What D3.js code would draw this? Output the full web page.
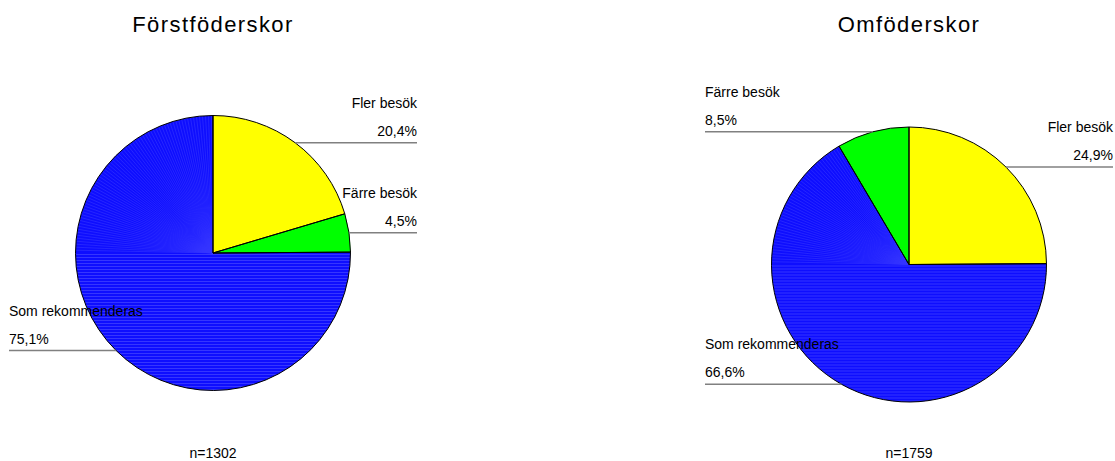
<!DOCTYPE html>
<html lang="sv">
<meta charset="utf-8">
<title>Besök – Förstföderskor / Omföderskor</title>
<head>
<style>
  body { margin: 0; background: #fff; }
  text { font-family: "Liberation Sans", Arial, sans-serif; fill: #000; }
</style>
</head>
<body>
  <script src="https://d3js.org/d3.v7.min.js"></script>
  <div id="chart"></div>
  <script>

    // data
    var titles = ["Förstföderskor", "Omföderskor"];
    var nLabels = ["n=1302", "n=1759"];

    var firstCats = ["Fler besök", "Färre besök", "Som rekommenderas"];
    var firstValues = [20.4, 4.5, 75.1];

    var otherCats = ["Fler besök", "Som rekommenderas", "Färre besök"];
    var otherValues = [24.9, 66.6, 8.5];

    var colors = {
      "Fler besök": "#ffff00",
      "Färre besök": "#00ff00",
      "Som rekommenderas": "#0f0fff"
    };

    var width = 1115, height = 461;
    var radius = 137.5;
    var labelOffset = 204;   // label columns, distance from pie centre

    var svg = d3.select("#chart")
      .append("svg")
      .attr("width", width)
      .attr("height", height);

    var pie = d3.pie().sort(null).value(function (d) { return d.value; });
    var arc = d3.arc().innerRadius(0).outerRadius(radius);
    var fmt = function (v) { return d3.format(".1f")(v).replace(".", ",") + "%"; };

    var panels = [
      { cx: 213, cy: 253, cats: firstCats, values: firstValues },
      { cx: 909, cy: 264.5, cats: otherCats, values: otherValues }
    ];

    panels.forEach(function (p, i) {
      var data = p.cats.map(function (c, j) { return { cat: c, value: p.values[j] }; });
      var arcs = pie(data);

      // title + n
      svg.append("text")
        .attr("x", p.cx).attr("y", 32)
        .attr("text-anchor", "middle")
        .style("font-size", "22px")
        .style("letter-spacing", "1.4px")
        .text(titles[i]);

      svg.append("text")
        .attr("x", p.cx).attr("y", 458)
        .attr("text-anchor", "middle")
        .style("font-size", "14px")
        .text(nLabels[i]);

      var g = svg.append("g")
        .attr("transform", "translate(" + p.cx + "," + p.cy + ")");

      // slices
      g.selectAll("path.slice")
        .data(arcs)
        .enter()
        .append("path")
        .attr("class", "slice")
        .attr("fill", function (d) { return colors[d.data.cat]; })
        .attr("d", arc);

      // the blue slice has a striped look in the original
      arcs.forEach(function (d, j) {
        if (d.data.cat !== "Som rekommenderas") return;
        var clipId = "clip" + i;
        g.append("clipPath").attr("id", clipId)
          .append("path").attr("d", arc(d));
        var stripes = g.append("g").attr("clip-path", "url(#" + clipId + ")")
          .attr("stroke", "#4646ff").attr("stroke-width", 1).attr("opacity", 0.7);
        // horizontal lines in the lower half
        d3.range(1.5, radius, 3).forEach(function (y) {
          stripes.append("line")
            .attr("x1", -radius).attr("x2", radius)
            .attr("y1", y).attr("y2", y);
        });
        // radial lines above the centre
        d3.range(d.startAngle, d.endAngle, 0.022).forEach(function (a) {
          var a2 = ((a % (2 * Math.PI)) + 2 * Math.PI) % (2 * Math.PI);
          if (a2 > Math.PI / 2 && a2 < 3 * Math.PI / 2) return;
          stripes.append("line")
            .attr("x1", 0).attr("y1", 0)
            .attr("x2", radius * Math.sin(a)).attr("y2", -radius * Math.cos(a))
            .attr("stroke-width", 0.6);
        });
      });

      // outlines
      g.selectAll("path.edge")
        .data(arcs)
        .enter()
        .append("path")
        .attr("class", "edge")
        .attr("fill", "none")
        .attr("stroke", "#000")
        .attr("stroke-width", 1)
        .attr("d", arc);

      // leader lines and labels
      arcs.forEach(function (d) {
        var mid = (d.startAngle + d.endAngle) / 2;
        var px = radius * Math.sin(mid);
        var py = -radius * Math.cos(mid);
        var right = mid < Math.PI;
        var colX = right ? labelOffset : -labelOffset;

        g.append("line")
          .attr("x1", px).attr("y1", py)
          .attr("x2", colX).attr("y2", py)
          .attr("stroke", "#808080")
          .attr("stroke-width", 1.5);

        g.append("text")
          .attr("x", colX).attr("y", py - 35)
          .attr("text-anchor", right ? "end" : "start")
          .style("font-size", "14px")
          .text(d.data.cat);

        g.append("text")
          .attr("x", colX).attr("y", py - 7)
          .attr("text-anchor", right ? "end" : "start")
          .style("font-size", "14px")
          .text(fmt(d.data.value));
      });
    });

  </script>
</body>
</html>
